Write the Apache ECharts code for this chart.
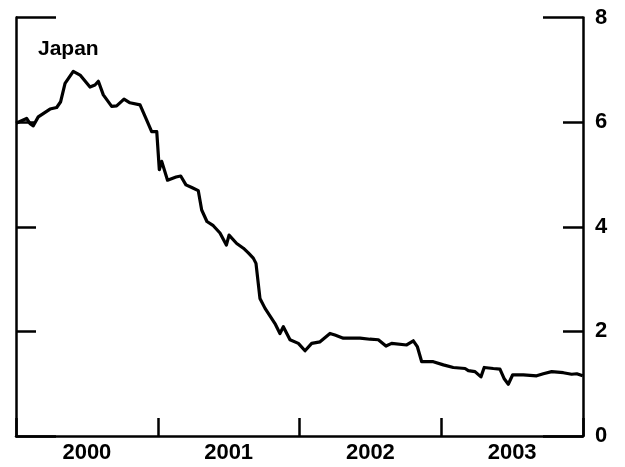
<!DOCTYPE html>
<html>
<head>
<meta charset="utf-8">
<script src="https://cdn.jsdelivr.net/npm/echarts@6/dist/echarts.min.js"></script>
<style>html,body{margin:0;padding:0;background:#fff;}#c{width:625px;height:467px;}</style>
</head>
<body>
<div id="c"></div>
<script>
// decimal-year dates and values (percent)
var dates = [2000.000,2000.075,2000.099,2000.122,2000.157,2000.240,2000.287,2000.315,2000.346,2000.404,2000.452,2000.522,2000.557,2000.581,2000.616,2000.675,2000.710,2000.762,2000.804,2000.875,2000.922,2000.957,2000.993,
  2001.011,2001.028,2001.069,2001.129,2001.162,2001.199,2001.240,2001.286,2001.310,2001.347,2001.392,2001.439,2001.484,2001.503,2001.557,2001.604,2001.639,2001.674,2001.693,2001.721,2001.757,2001.827,2001.862,2001.886,2001.933,2001.992,
  2002.039,2002.086,2002.145,2002.215,2002.250,2002.309,2002.427,2002.497,2002.556,2002.610,2002.650,2002.756,2002.803,2002.831,2002.862,2002.944,
  2003.015,2003.085,2003.168,2003.191,2003.238,2003.280,2003.303,2003.367,2003.414,2003.443,2003.473,2003.504,2003.579,2003.673,2003.720,2003.779,2003.861,2003.920,2003.956,2003.998];
var values = [5.98,6.07,5.97,5.93,6.10,6.25,6.28,6.39,6.74,6.97,6.90,6.67,6.71,6.78,6.52,6.30,6.31,6.44,6.37,6.33,6.04,5.82,5.82,
  5.09,5.25,4.89,4.95,4.97,4.80,4.75,4.69,4.32,4.10,4.02,3.88,3.65,3.84,3.68,3.59,3.50,3.40,3.30,2.63,2.44,2.15,1.96,2.09,1.84,1.77,
  1.63,1.77,1.80,1.96,1.93,1.87,1.87,1.85,1.84,1.72,1.77,1.74,1.82,1.71,1.42,1.42,
  1.36,1.31,1.29,1.25,1.23,1.13,1.31,1.29,1.28,1.10,0.99,1.17,1.17,1.15,1.19,1.23,1.21,1.18,1.19,1.15];
var yearLabels = ['2000','2001','2002','2003'];
var yTicks = [0,2,4,6,8];
var seriesName = 'Japan';

var pts = dates.map(function(d,i){return [d, values[i]];});
var FONT = '"Liberation Sans", Arial, Helvetica, sans-serif';
var lineStyle = {color:'#000', width:2.5};

var chart = echarts.init(document.getElementById('c'), null, {renderer:'canvas'});
chart.setOption({
  animation:false,
  backgroundColor:'#fff',
  title:{text:seriesName, left:33, top:34, textStyle:{fontFamily:FONT, fontSize:21, fontWeight:'bold', color:'#000'}},
  grid:{left:16, right:42, top:17.5, bottom:31, containLabel:false},
  xAxis:[
    {type:'value', min:2000, max:2004, interval:1, position:'bottom',
     axisLine:{show:true, lineStyle:lineStyle},
     axisTick:{show:true, inside:true, length:18, lineStyle:lineStyle},
     axisLabel:{show:false}, splitLine:{show:false}},
    {type:'value', min:2000, max:2004, interval:0.5, position:'bottom',
     axisLine:{show:false}, axisTick:{show:false}, splitLine:{show:false},
     axisLabel:{show:true, margin:6, fontFamily:FONT, fontSize:22, fontWeight:'bold', color:'#000',
       formatter:function(v){var i=Math.floor(v)-2000; return (Math.abs(v-Math.floor(v)-0.5)<1e-6 && yearLabels[i]) ? yearLabels[i] : '';}}}
  ],
  yAxis:[
    {type:'value', min:yTicks[0], max:yTicks[yTicks.length-1], interval:2, position:'right',
     axisLine:{show:true, lineStyle:lineStyle},
     axisTick:{show:true, inside:true, length:20, lineStyle:lineStyle},
     axisLabel:{show:true, margin:12, fontFamily:FONT, fontSize:22, fontWeight:'bold', color:'#000'},
     splitLine:{show:false}},
    {type:'value', min:0, max:8, interval:2, position:'left',
     axisLine:{show:true, lineStyle:lineStyle},
     axisTick:{show:true, inside:true, length:20, lineStyle:lineStyle},
     axisLabel:{show:false}, splitLine:{show:false}},
    {type:'value', min:0, max:8, interval:8, position:'right',
     axisLine:{show:false}, axisTick:{show:true, inside:true, length:40, lineStyle:lineStyle},
     axisLabel:{show:false}, splitLine:{show:false}},
    {type:'value', min:0, max:8, interval:8, position:'left',
     axisLine:{show:false}, axisTick:{show:true, inside:true, length:40, lineStyle:lineStyle},
     axisLabel:{show:false}, splitLine:{show:false}}
  ],
  series:[{type:'line', name:seriesName, data:pts, xAxisIndex:0, yAxisIndex:0, showSymbol:false, symbol:'none',
    lineStyle:{color:'#000', width:3.2, join:'round'}, silent:true}]
});
</script>
</body>
</html>
